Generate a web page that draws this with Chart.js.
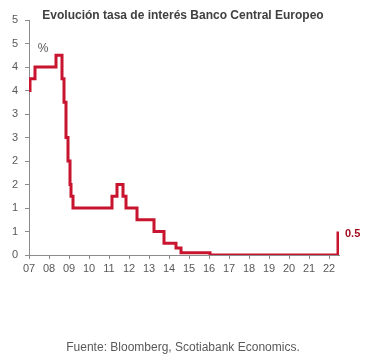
<!DOCTYPE html>
<html>
<head>
<meta charset="utf-8">
<script src="https://cdn.jsdelivr.net/npm/chart.js@4"></script>
<style>
  body { margin: 0; background: #fff; }
  canvas { display: block; }
</style>
</head>
<body>
<canvas id="ecbChart" width="366" height="364"></canvas>
<script>
// fechas (año decimal) en que cambia la tasa
const changeDates = [2007.0, 2007.05, 2007.3, 2008.35, 2008.65, 2008.75, 2008.85, 2008.95, 2009.05, 2009.1, 2009.2,
                     2011.15, 2011.4, 2011.7, 2011.85, 2012.4, 2013.25, 2013.75, 2014.35, 2014.6, 2016.05, 2022.45];
// nueva tasa (%) desde cada fecha
const rates = [3.5, 3.75, 4.0, 4.25, 3.75, 3.25, 2.5, 2.0, 1.5, 1.25, 1.0,
               1.25, 1.5, 1.25, 1.0, 0.75, 0.5, 0.25, 0.15, 0.05, 0.0, 0.5];
const yearTicks = [2007, 2008, 2009, 2010, 2011, 2012, 2013, 2014, 2015, 2016, 2017, 2018, 2019, 2020, 2021, 2022];
const yearLabels = ['07', '08', '09', '10', '11', '12', '13', '14', '15', '16', '17', '18', '19', '20', '21', '22'];
const rateTicks = [0, 0.5, 1, 1.5, 2, 2.5, 3, 3.5, 4, 4.5, 5];
const rateLabels = ['0', '1', '1', '2', '2', '3', '3', '4', '4', '5', '5'];

const title = 'Evolución tasa de interés Banco Central Europeo';
const source = 'Fuente: Bloomberg, Scotiabank Economics.';
const unit = '%';

const FONT = 'Arial, "Liberation Sans", sans-serif';
const GRAY = '#595959';
const RED = '#c8142f';

const notes = {
    id: 'notes',
    afterDraw(chart) {
        const ctx = chart.ctx;
        const x = chart.scales.x, y = chart.scales.y;
        ctx.save();
        ctx.textAlign = 'center';
        ctx.textBaseline = 'middle';
        ctx.fillStyle = '#404040';
        ctx.font = 'bold 12px ' + FONT;
        ctx.fillText(title, 183, 16);
        ctx.font = '12px ' + FONT;
        ctx.fillStyle = GRAY;
        ctx.fillText(source, 183, 348);
        ctx.fillText(unit, 43, 49);
        // etiqueta del último valor
        const last = rates.length - 1;
        ctx.textAlign = 'left';
        ctx.fillStyle = '#a3101f';
        ctx.font = 'bold 11px ' + FONT;
        ctx.fillText(String(rates[last]), x.getPixelForValue(changeDates[last]) + 7, y.getPixelForValue(rates[last]) + 2);
        ctx.restore();
    }
};

new Chart(document.getElementById('ecbChart'), {
    type: 'line',
    data: {
        datasets: [{
            data: changeDates.map((d, i) => ({ x: d, y: rates[i] })),
            borderColor: RED,
            borderWidth: 3,
            pointRadius: 0,
            stepped: 'before',
            fill: false
        }]
    },
    options: {
        responsive: false,
        animation: false,
        devicePixelRatio: 1,
        layout: { padding: { top: 20, right: 27, bottom: 89, left: 0 } },
        plugins: {
            legend: { display: false },
            tooltip: { enabled: false }
        },
        scales: {
            x: {
                type: 'linear',
                min: 2007,
                max: 2022.5,
                afterFit: (s) => { s.height = 20; },
                afterBuildTicks: (s) => { s.ticks = yearTicks.map(v => ({ value: v })); },
                grid: { display: true, drawOnChartArea: false, drawTicks: true, tickLength: 4, color: '#8c8c8c' },
                border: { display: true, color: '#8c8c8c', width: 1 },
                ticks: {
                    color: GRAY,
                    font: { family: FONT, size: 11 },
                    padding: 3,
                    maxRotation: 0,
                    autoSkip: false,
                    callback: (v, i) => yearLabels[i]
                }
            },
            y: {
                min: 0,
                max: 5,
                afterFit: (s) => { s.width = 29; },
                afterBuildTicks: (s) => { s.ticks = rateTicks.map(v => ({ value: v })); },
                grid: { display: true, drawOnChartArea: false, drawTicks: true, tickLength: 4, color: '#8c8c8c' },
                border: { display: true, color: '#8c8c8c', width: 1 },
                ticks: {
                    color: GRAY,
                    font: { family: FONT, size: 11 },
                    padding: 7,
                    callback: (v, i) => rateLabels[i]
                }
            }
        }
    },
    plugins: [notes]
});
</script>
</body>
</html>
